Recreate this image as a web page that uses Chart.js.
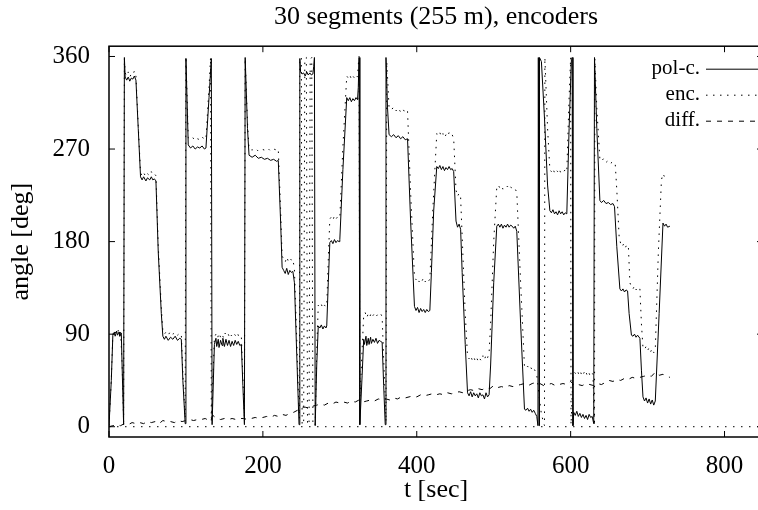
<!DOCTYPE html>
<html>
<head>
<meta charset="utf-8">
<script src="https://cdn.jsdelivr.net/npm/chart.js@4.4.0/dist/chart.umd.min.js"></script>
<style>
  html, body { margin: 0; padding: 0; background: #fff; overflow: hidden; }
  #wrap { width: 775px; height: 510px; }
</style>
</head>
<body>
<div id="wrap"><canvas id="chart" width="775" height="510"></canvas></div>
<script>
// [t (sec), angle (deg)]
const polC = [
  [0,1],[3,45],[5,89],[7,92],[8,88],[10,93],[11,89],[13,92],[14,88],[16,91],[17,60],[19,2],
  [20,359],[21,340],[23,337],[25,340],[27,336],[29,339],[31,338],[33,341],[35,337],[38,290],
  [41,243],[43,240],[45,243],[48,239],[50,242],[53,240],[55,243],[57,240],[59,241],[61,239],
  [64,170],[68,110],[70,88],[72,85],[74,88],[77,84],[80,87],[83,85],[86,88],[89,84],[92,86],
  [94,85],[96,45],[99,3],[100,358],[103,274],[106,271],[109,273],[112,270],[115,272],[118,271],
  [121,273],[124,270],[126,271],[130,320],[133,358],[134,2],[137,80],[139,86],[140,78],[142,85],
  [143,77],[145,84],[147,79],[148,86],[150,78],[152,85],[154,79],[156,84],[158,78],[160,83],
  [162,79],[164,84],[166,80],[168,83],[170,79],[172,80],[174,40],[176,2],[177,359],[180,290],
  [182,264],[186,262],[190,264],[194,261],[198,262],[202,260],[206,261],[210,259],[214,260],
  [218,258],[220,259],[223,200],[225,155],[227,152],[229,149],[231,154],[233,148],[235,152],
  [237,150],[239,151],[241,140],[244,70],[247,2],[248,358],[249,345],[251,343],[253,344],
  [255,341],[257,345],[259,342],[261,344],[263,342],[265,343],[266,350],[267,359],[268,1],
  [270,60],[272,98],[274,96],[276,99],[278,95],[280,98],[282,96],[283,98],[285,140],[287,179],
  [289,181],[291,178],[293,182],[295,179],[297,181],[299,180],[300,182],[304,250],[309,320],
  [311,317],[313,320],[315,316],[317,319],[319,317],[321,320],[323,318],[324,330],[325,359],
  [326,2],[329,50],[331,85],[332,80],[334,88],[335,79],[337,86],[338,80],[340,87],[341,81],
  [343,85],[345,82],[347,86],[349,81],[351,84],[353,83],[355,82],[357,40],[359,2],[360,359],
  [362,310],[364,284],[367,282],[370,284],[373,281],[376,283],[379,280],[382,282],[385,279],
  [388,280],[392,200],[397,117],[399,113],[401,116],[403,111],[405,115],[407,112],[409,114],
  [411,111],[413,114],[415,112],[417,113],[419,150],[422,210],[426,253],[428,251],[430,254],
  [432,250],[434,253],[436,249],[438,252],[440,250],[442,253],[444,250],[446,251],[448,248],
  [451,200],[453,194],[455,197],[457,192],[459,150],[463,80],[466,33],[468,30],[470,34],
  [472,29],[474,33],[476,30],[478,32],[480,28],[482,33],[484,30],[486,31],[488,27],[490,33],
  [492,29],[494,31],[496,60],[500,140],[504,195],[506,197],[508,194],[510,197],[512,193],
  [514,196],[516,194],[518,197],[520,194],[522,196],[524,195],[526,193],[528,195],[530,190],
  [535,100],[540,17],[542,16],[544,18],[546,15],[548,17],[550,14],[552,16],[554,13],[556,10],
  [557.5,1],[558,359],[559,1],[559.5,359],[562,355],[566,300],[570,235],
  [573,210],[575,208],[577,211],[579,207],[581,209],[583,206],[585,210],[587,207],[589,209],
  [591,206],[593,208],[595,207],[598,290],[601,357],[602,359],[603,1],[604,14],[606,11],
  [608,15],[610,10],[612,13],[614,9],[616,12],[618,8],[620,11],[622,7],[624,12],[626,9],
  [628,10],[630,3],[631,359],[634,290],[638,220],[640,218],[643,220],[646,217],[649,218],
  [652,216],[655,217],[657,214],[660,175],[664,134],[666,132],[668,134],[670,131],[672,133],
  [674,132],[676,110],[679,89],[681,88],[683,90],[685,87],[687,89],[690,86],[692,55],[694,29],
  [696,25],[698,28],[700,23],[702,27],[704,22],[706,26],[708,21],[710,25],[715,110],[720,198],
  [722,195],[724,197],[726,194],[729,195]
];

const enc = [
  [0,1],[3,46],[5,90],[7,94],[9,91],[11,95],[13,92],[15,94],[17,62],[19,4],[20,358],[21,344],
  [23,341],[25,345],[27,340],[29,343],[31,342],[33,346],[35,341],[38,293],[41,247],[43,244],
  [45,247],[48,243],[50,246],[53,244],[55,248],[57,245],[59,246],[61,244],[64,176],[68,116],
  [70,93],[72,90],[74,92],[77,89],[80,93],[83,90],[86,92],[89,89],[92,91],[94,90],[96,52],
  [99,8],[100,360],[103,281],[106,279],[109,281],[112,278],[115,280],[118,279],[121,282],
  [124,279],[126,280],[130,330],[132,359],[133,4],[137,87],[139,90],[141,86],[143,91],[145,87],
  [147,90],[149,86],[151,91],[153,88],[155,90],[157,86],[159,89],[161,87],[163,90],[165,88],
  [167,91],[169,87],[172,88],[174,48],[176,9],[177,358],[180,296],[182,270],[186,269],[190,271],
  [194,268],[198,270],[202,269],[206,271],[210,268],[214,270],[218,269],[220,270],[223,212],
  [225,166],[227,163],[229,160],[231,165],[233,161],[235,164],[237,162],[239,163],[241,153],
  [244,85],[246,35],[247.5,8],[248,358],[250,359],[251,2],[253,3],[254.5,358],[256.5,359],
  [258,2],[260,3],[261.5,357],[263.5,359],[265,3],[267,2],[268,1],[270,75],[272,118],[274,116],
  [276,119],[278,115],[280,118],[283,117],[285,162],[287,202],[289,204],[291,201],[293,205],
  [295,202],[297,204],[300,203],[304,272],[309,341],[311,339],[313,342],[315,338],[317,341],
  [319,339],[321,342],[323,340],[324,352],[325,360],[326,25],[329,75],[331,108],[333,111],
  [335,106],[337,110],[339,107],[341,111],[343,108],[345,110],[347,107],[349,109],[351,108],
  [353,110],[355,107],[357,65],[359,28],[360,5],[361,355],[364,310],[367,308],[370,311],
  [373,307],[376,310],[379,306],[382,309],[385,305],[388,307],[392,228],[397,146],[399,143],
  [401,145],[403,141],[405,144],[407,142],[409,145],[411,141],[413,144],[415,142],[417,143],
  [421,213],[426,285],[428,283],[430,286],[432,282],[434,285],[436,281],[438,284],[440,282],
  [442,286],[444,283],[446,284],[448,280],[451,230],[453,224],[455,227],[457,223],[459,185],
  [463,110],[466,68],[468,66],[470,69],[472,65],[474,68],[476,64],[478,67],[480,63],[482,66],
  [484,64],[486,69],[488,65],[490,70],[492,67],[494,72],[496,100],[500,180],[504,233],[506,235],
  [508,232],[510,234],[512,231],[514,233],[516,232],[518,234],[520,231],[522,233],[524,232],
  [526,230],[528,231],[530,228],[535,140],[540,58],[542,57],[544,59],[546,56],[548,58],[550,55],
  [552,57],[554,54],[556,50],[559,30],[562,12],[566,1],[566.5,359],[570,290],[573,250],
  [575,248],[577,251],[579,247],[581,250],[583,248],[585,251],[587,247],[589,249],[591,248],
  [593,250],[595,248],[598,320],[600,359],[600.5,2],[603,50],[605,53],[607,51],[609,54],
  [611,50],[613,53],[615,49],[617,52],[619,55],[621,51],[623,54],[625,50],[627,53],[629,51],
  [631,1],[631.5,358],[634,310],[638,260],[640,258],[643,261],[646,257],[649,259],[652,256],
  [655,258],[658,255],[660,230],[663,185],[665,178],[667,175],[669,178],[671,174],[673,177],
  [675,176],[677,140],[679,136],[681,134],[683,137],[685,133],[687,136],[690,134],[692,100],
  [694,77],[696,75],[698,78],[700,74],[702,77],[704,73],[706,76],[708,72],[710,75],[714,170],
  [718,240],[720,246],[722,243]
];

const diff = [
  [0,0],[5,1],[10,2],[15,1],[20,3],[25,2],[30,4],[35,3],[40,4],[45,3],[50,5],[55,4],[60,5],
  [65,3],[70,6],[75,5],[80,5],[85,4],[90,6],[95,5],[100,6],[105,7],[110,6],[115,7],[120,7],
  [125,8],[130,6],[135,11],[140,8],[145,7],[150,8],[155,7],[160,8],[165,7],[170,8],[175,8],
  [180,7],[185,8],[190,9],[195,8],[200,9],[205,10],[210,9],[215,11],[220,10],[225,12],[230,11],
  [235,13],[240,14],[245,16],[250,19],[255,19],[260,18],[265,20],[270,21],[275,22],[280,21],
  [285,23],[290,22],[295,24],[300,23],[305,24],[310,23],[315,25],[320,24],[325,26],[330,24],
  [335,25],[340,26],[345,25],[350,27],[355,26],[360,27],[365,26],[370,28],[375,27],[380,29],
  [385,28],[390,29],[395,30],[400,29],[405,31],[410,30],[415,31],[420,32],[425,31],[430,32],
  [435,31],[440,33],[445,32],[450,33],[455,34],[460,33],[465,35],[470,36],[475,35],[480,37],
  [485,36],[490,38],[495,37],[500,40],[505,38],[510,39],[515,38],[520,40],[525,39],[530,40],
  [535,41],[540,42],[545,40],[550,42],[555,43],[560,42],[565,40],[570,41],[575,42],[580,40],
  [585,41],[590,42],[595,41],[600,44],[605,40],[610,41],[615,40],[620,42],[625,41],[630,40],
  [635,42],[640,41],[645,43],[650,45],[655,44],[660,46],[665,45],[670,47],[675,46],[680,48],
  [685,47],[690,48],[695,49],[700,50],[705,49],[710,53],[715,50],[720,51],[725,49],[729,48]
];

const xTicks = [0, 200, 400, 600, 800];
const yTicks = [0, 90, 180, 270, 360];

const serif = "'Liberation Serif', 'Times New Roman', serif";
const tickLen = 6;

function toPoints(pairs) {
  return pairs.map(p => ({ x: p[0], y: p[1] }));
}

// gnuplot look: dotted zero axis, closed frame, inward ticks, key at top right
const gnuplotLook = {
  id: 'gnuplotLook',
  beforeDatasetsDraw(chart) {
    const { ctx, chartArea: area, scales } = chart;
    const y0 = scales.y.getPixelForValue(0);
    ctx.save();
    ctx.strokeStyle = '#000';
    ctx.lineWidth = 1;
    ctx.setLineDash([1.5, 6.5]);
    ctx.beginPath();
    ctx.moveTo(area.left, y0);
    ctx.lineTo(area.right, y0);
    ctx.stroke();
    ctx.restore();
  },
  afterDraw(chart) {
    const { ctx, chartArea: area, scales } = chart;
    ctx.save();
    ctx.strokeStyle = '#000';
    ctx.lineWidth = 1.5;
    ctx.strokeRect(area.left, area.top, area.right - area.left, area.bottom - area.top);

    ctx.lineWidth = 1;
    ctx.beginPath();
    xTicks.forEach(v => {
      const px = scales.x.getPixelForValue(v);
      ctx.moveTo(px, area.bottom);
      ctx.lineTo(px, area.bottom - tickLen);
      ctx.moveTo(px, area.top);
      ctx.lineTo(px, area.top + tickLen);
    });
    yTicks.forEach(v => {
      const py = scales.y.getPixelForValue(v);
      ctx.moveTo(area.left, py);
      ctx.lineTo(area.left + tickLen, py);
      ctx.moveTo(area.right, py);
      ctx.lineTo(area.right - tickLen, py);
    });
    ctx.stroke();

    ctx.font = '21px ' + serif;
    ctx.textAlign = 'right';
    ctx.textBaseline = 'middle';
    ctx.fillStyle = '#000';
    chart.data.datasets.forEach((ds, i) => {
      const rowY = area.top + 22 + i * 26;
      ctx.fillText(ds.label, area.right - 63, rowY);
      ctx.setLineDash(ds.borderDash || []);
      ctx.lineWidth = ds.borderWidth;
      ctx.beginPath();
      ctx.moveTo(area.right - 57, rowY + 1);
      ctx.lineTo(area.right - 4, rowY + 1);
      ctx.stroke();
    });
    ctx.restore();
  }
};

const lineStyle = {
  borderColor: '#000',
  borderWidth: 1,
  pointRadius: 0,
  tension: 0,
  borderJoinStyle: 'round',
  fill: false
};

const ctx = document.getElementById('chart').getContext('2d');
const chart = new Chart(ctx, {
  type: 'line',
  data: {
    datasets: [
      { ...lineStyle, label: 'pol-c.', data: toPoints(polC) },
      { ...lineStyle, label: 'enc.', data: toPoints(enc), borderDash: [1.5, 5.5] },
      { ...lineStyle, label: 'diff.', data: toPoints(diff), borderDash: [5, 6] }
    ]
  },
  options: {
    responsive: false,
    animation: false,
    events: [],
    layout: { padding: { left: 0, right: 12, top: 0, bottom: 0 } },
    scales: {
      x: {
        type: 'linear',
        min: 0,
        max: 850,
        afterBuildTicks: axis => { axis.ticks = xTicks.map(v => ({ value: v })); },
        afterFit: axis => { axis.height = 73; },
        grid: { display: false, drawTicks: false },
        border: { display: false },
        ticks: { color: '#000', font: { family: serif, size: 25 }, padding: 14, maxRotation: 0 },
        title: {
          display: true,
          text: 't [sec]',
          color: '#000',
          font: { family: serif, size: 26 },
          padding: { top: 0, bottom: 4 }
        }
      },
      y: {
        type: 'linear',
        min: -10,
        max: 370,
        afterBuildTicks: axis => { axis.ticks = yTicks.map(v => ({ value: v })); },
        afterFit: axis => { axis.width = 109; },
        grid: { display: false, drawTicks: false },
        border: { display: false },
        ticks: { color: '#000', font: { family: serif, size: 25 }, padding: 19 },
        title: {
          display: true,
          text: 'angle [deg]',
          color: '#000',
          font: { family: serif, size: 26 },
          padding: { top: 6, bottom: 0 }
        }
      }
    },
    plugins: {
      legend: { display: false },
      tooltip: { enabled: false },
      title: {
        display: true,
        text: '30 segments (255 m), encoders',
        color: '#000',
        fullSize: false,
        font: { family: serif, size: 26, weight: 'normal' },
        padding: { top: 2, bottom: 13 }
      }
    }
  },
  plugins: [gnuplotLook]
});
</script>
</body>
</html>
